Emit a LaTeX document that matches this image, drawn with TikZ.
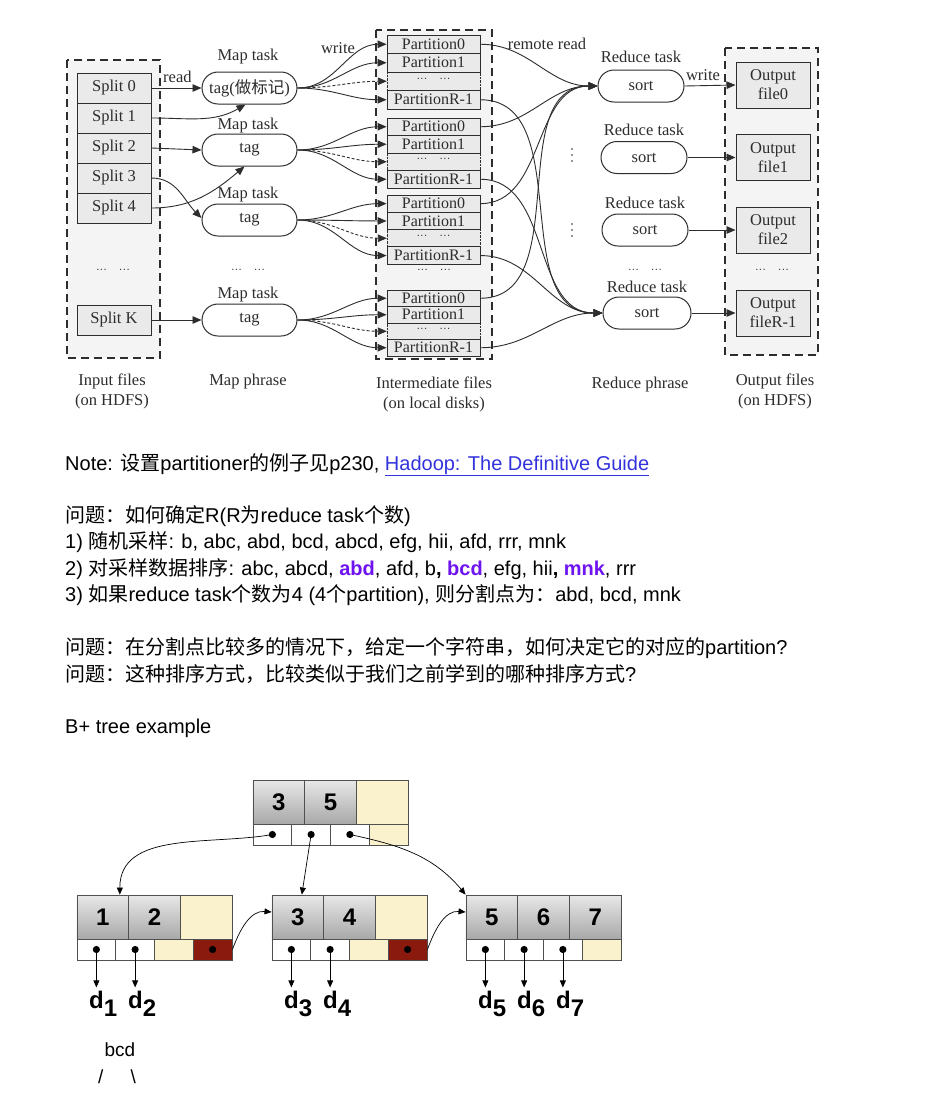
\documentclass[tikz,border=0pt]{standalone}
\usepackage{fontspec}
\setmainfont{Liberation Sans}
\newfontfamily\serif{Liberation Serif}
\newfontfamily\cjk{Noto Sans CJK SC}
\usetikzlibrary{arrows.meta,shapes.misc,calc}

\definecolor{lnk}{RGB}{51,51,221}
\definecolor{hl}{RGB}{110,20,240}
\definecolor{byel}{RGB}{250,242,204}
\definecolor{bred}{RGB}{139,26,14}
\definecolor{dline}{RGB}{45,45,45}
\definecolor{boxfill}{RGB}{234,234,234}
\definecolor{areafill}{RGB}{244,244,244}
\definecolor{ktop}{RGB}{232,232,232}
\definecolor{kbot}{RGB}{168,168,168}
\definecolor{bline}{RGB}{80,80,80}

\newcommand\zh[1]{{\cjk #1}}
\newcommand\dotsx{\raisebox{2pt}{\fontsize{11}{11}\selectfont ···\hspace{12pt}···}}

\tikzset{
  serfont/.style={font=\serif\fontsize{16.5}{20}\selectfont, text=dline},
  area/.style={draw=dline, dash pattern=on 8pt off 5pt, line width=1.4pt, fill=areafill},
  splitbox/.style={draw=dline, line width=0.9pt, fill=boxfill, minimum width=74pt, minimum height=30pt, inner sep=0pt, serfont},
  pill/.style={draw=dline, line width=1pt, fill=white, rounded rectangle, minimum width=95pt, minimum height=32pt, inner sep=0pt, serfont},
  part/.style={draw=dline, line width=0.9pt, fill=boxfill, minimum width=93pt, inner sep=0pt, font=\serif\fontsize{16}{16}\selectfont, text=dline},
  partdots/.style={draw=dline, densely dotted, fill=boxfill, minimum width=93pt, inner sep=0pt, font=\serif, text=dline},
  outbox/.style={draw=dline, line width=1pt, fill=boxfill, minimum width=74pt, minimum height=46pt, inner sep=0pt, align=center, font=\serif\fontsize{16.5}{19}\selectfont, text=dline},
  lab/.style={serfont, inner sep=0pt, align=center},
  arr/.style={draw=dline, line width=0.9pt, -{Triangle[length=9pt,width=7.5pt]}},
  txt/.style={anchor=base west, inner sep=0pt, font=\fontsize{20}{24}\selectfont},
  keycell/.style={draw=bline, line width=0.9pt, top color=ktop, bottom color=kbot, minimum width=51.67pt, minimum height=44pt, inner sep=0pt, font=\bfseries\fontsize{24}{24}\selectfont},
  keyempty/.style={draw=bline, line width=0.9pt, fill=byel, minimum width=51.67pt, minimum height=44pt, inner sep=0pt},
  ptrdot/.style={draw=bline, line width=0.9pt, fill=white, minimum width=38.75pt, minimum height=21pt, inner sep=0pt,
     path picture={\fill[black] (path picture bounding box.center) circle (3.6pt);}},
  ptrred/.style={ptrdot, fill=bred},
  ptrempty/.style={draw=bline, line width=0.9pt, fill=byel, minimum width=38.75pt, minimum height=21pt, inner sep=0pt},
  barrow/.style={draw=black, line width=0.7pt, -{Triangle[length=7pt,width=6pt]}},
  dlab/.style={anchor=base west, inner sep=0pt, font=\bfseries\fontsize{24}{24}\selectfont},
}

\newcommand\pgroup[3]{%
  \node[partdots, minimum height=#3pt] (p#1c) at (433.5,{#2+2.5*#3}) {\dotsx};
  \node[part, minimum height=#3pt] (p#1a) at (433.5,{#2+0.5*#3}) {Partition0};
  \node[part, minimum height=#3pt] (p#1b) at (433.5,{#2+1.5*#3}) {Partition1};
  \node[part, minimum height=#3pt] (p#1d) at (433.5,{#2+3.5*#3}) {PartitionR-1};
}
\newcommand\fan[2]{%
  \draw[arr] (#1.east) to[out=0,in=180] (p#2a.west);
  \draw[arr] (#1.east) to[out=0,in=180] (p#2b.west);
  \draw[arr, densely dashed] (#1.east) to[out=0,in=180] (p#2c.west);
  \draw[arr] (#1.east) to[out=0,in=180] (p#2d.west);
}
\newcommand\keyrow[7]{%
  \node[keycell] (#1k1) at ({#2+25.83},{#3+22}) {#4};
  \node[keycell] (#1k2) at ({#2+77.5},{#3+22}) {#5};
  \node[#6] (#1k3) at ({#2+129.17},{#3+22}) {#7};
}
\newcommand\ptrrow[7]{%
  \node[#4] (#1p1) at ({#2+19.375},{#3+54.5}) {};
  \node[#5] (#1p2) at ({#2+58.125},{#3+54.5}) {};
  \node[#6] (#1p3) at ({#2+96.875},{#3+54.5}) {};
  \node[#7] (#1p4) at ({#2+135.625},{#3+54.5}) {};
}

\begin{document}
\begin{tikzpicture}[x=1pt,y=-1pt]
\useasboundingbox (0,0) rectangle (940,1112);
\fill[white] (0,0) rectangle (940,1112);

% ---------- areas ----------
\draw[area] (67,60) rectangle (160,358);
\draw[area] (376,30) rectangle (492,359);
\draw[area] (725,48) rectangle (818,355);

% ---------- input splits ----------
\node[splitbox] (s0) at (114,88) {Split 0};
\node[splitbox] (s1) at (114,118) {Split 1};
\node[splitbox] (s2) at (114,148) {Split 2};
\node[splitbox] (s3) at (114,178) {Split 3};
\node[splitbox] (s4) at (114,208) {Split 4};
\node[splitbox] (sk) at (114,320) {Split K};
\node[lab] (idots) at (113,272) {\dotsx};

% ---------- map tasks ----------
\node[pill] (m1) at (249.5,88) {tag(\zh{做标记})};
\node[pill] (m2) at (249.5,150) {tag};
\node[pill] (m3) at (249.5,220) {tag};
\node[pill] (m4) at (249.5,320) {tag};
\node[lab] (ml1) at (248,57) {Map task};
\node[lab] (ml2) at (248,126) {Map task};
\node[lab] (ml3) at (248,195) {Map task};
\node[lab] (ml4) at (248,295) {Map task};
\node[lab] (mdots) at (248,272) {\dotsx};

% ---------- partitions ----------
\pgroup{1}{35}{18.5}
\pgroup{2}{118}{17.5}
\pgroup{3}{195}{17.3}
\pgroup{4}{290}{16.5}
\node[lab] (pdots) at (434,272) {\dotsx};

% ---------- reduce tasks ----------
\node[pill, minimum width=86pt] (red1) at (641,86) {sort};
\node[pill, minimum width=86pt] (red2) at (644,157.5) {sort};
\node[pill, minimum width=86pt] (red3) at (645,230) {sort};
\node[pill, minimum width=88pt] (red4) at (647,313) {sort};
\node[lab] (rl1) at (641,57) {Reduce task};
\node[lab] (rl2) at (644,130) {Reduce task};
\node[lab] (rl3) at (645,203) {Reduce task};
\node[lab] (rl4) at (647,287) {Reduce task};
\node[lab] (rdots) at (645,272) {\dotsx};
\foreach \yy in {149,155,161,224,230,236} \fill[dline] (572,\yy) circle (0.9pt);

% ---------- outputs ----------
\node[outbox] (o1) at (773,85) {Output\\file0};
\node[outbox] (o2) at (773,157.5) {Output\\file1};
\node[outbox] (o3) at (773,230) {Output\\file2};
\node[outbox] (o4) at (773,313) {Output\\fileR-1};
\node[lab] (odots) at (772,272) {\dotsx};

% ---------- connectors: input -> map ----------
\draw[arr] (s0.east) -- (m1.west);
\draw[arr] (s1.east) to[out=0,in=-150] ([xshift=-4pt]m1.south);
\draw[arr] (s2.east) -- (m2.west);
\draw[arr] (s3.east) to[out=0,in=135] ([yshift=2pt]m3.west);
\draw[arr] (s4.east) to[out=0,in=-140] ([xshift=-5pt]m2.south);
\draw[arr] (sk.east) -- (m4.west);

% ---------- map -> partitions ----------
\fan{m1}{1}
\fan{m2}{2}
\fan{m3}{3}
\fan{m4}{4}

% ---------- partitions -> reduce ----------
\foreach \g in {1,2,3,4}{
  \draw[arr] (p\g a.east) to[out=0,in=180] (red1.west);
  \draw[arr] (p\g d.east) to[out=0,in=180] (red4.west);
}

% ---------- reduce -> output ----------
\draw[arr] (red1.east) -- (o1.west);
\draw[arr] (red2.east) -- (o2.west);
\draw[arr] (red3.east) -- (o3.west);
\draw[arr] (red4.east) -- (o4.west);

% ---------- small labels ----------
\node[lab, anchor=west] (lread) at (163,77) {read};
\node[lab] (lwrite) at (338,48) {write};
\node[lab] (lrr) at (547,44) {remote read};
\node[lab] (lwrite2) at (703,75) {write};

% ---------- captions ----------
\node[lab] (c1) at (112,391) {Input files\\(on HDFS)};
\node[lab] (c2) at (248,382) {Map phrase};
\node[lab] (c3) at (434,394) {Intermediate files\\(on local disks)};
\node[lab] (c4) at (640,385) {Reduce phrase};
\node[lab] (c5) at (775,391) {Output files\\(on HDFS)};

% ---------- notes text ----------
\node[txt] (t1) at (65,470) {Note: \zh{设置}partitioner\zh{的例子见}p230, \textcolor{lnk}{\underline{Hadoop: The Definitive Guide}}};
\node[txt] (t2) at (65,522) {\zh{问题：如何确定}R(R\zh{为}reduce task\zh{个数})};
\node[txt] (t3) at (65,548) {1) \zh{随机采样}: b, abc, abd, bcd, abcd, efg, hii, afd, rrr, mnk};
\node[txt] (t4) at (65,575) {2) \zh{对采样数据排序}: abc, abcd, \textcolor{hl}{\bfseries abd}, afd, b\textbf{,} \textcolor{hl}{\bfseries bcd}, efg, hii\textbf{,} \textcolor{hl}{\bfseries mnk}, rrr};
\node[txt] (t5) at (65,601) {3) \zh{如果}reduce task\zh{个数为}4 (4\zh{个}partition), \zh{则分割点为：}abd, bcd, mnk};
\node[txt] (t6) at (65,654) {\zh{问题：在分割点比较多的情况下，给定一个字符串，如何决定它的对应的}partition?};
\node[txt] (t7) at (65,681) {\zh{问题：这种排序方式，比较类似于我们之前学到的哪种排序方式}?};
\node[txt] (t8) at (65,733) {B+ tree example};

% ---------- B+ tree ----------
\keyrow{r}{253}{780}{3}{5}{keyempty}{}
\ptrrow{r}{253}{780}{ptrdot}{ptrdot}{ptrdot}{ptrempty}
\keyrow{a}{77}{895}{1}{2}{keyempty}{}
\ptrrow{a}{77}{895}{ptrdot}{ptrdot}{ptrempty}{ptrred}
\keyrow{b}{272}{895}{3}{4}{keyempty}{}
\ptrrow{b}{272}{895}{ptrdot}{ptrdot}{ptrempty}{ptrred}
\keyrow{c}{466}{895}{5}{6}{keycell}{7}
\ptrrow{c}{466}{895}{ptrdot}{ptrdot}{ptrdot}{ptrempty}

\draw[barrow] (rp1.center) to[out=190,in=90] ([xshift=17pt]ak1.north);
\draw[barrow] (rp2.center) -- ([xshift=4pt]bk1.north);
\draw[barrow] (rp3.center) to[out=-12,in=130] (ck1.north west);
\draw[barrow] (ap4.east) to[out=70,in=175] ([yshift=5pt]bk1.west);
\draw[barrow] (bp4.east) to[out=70,in=175] ([yshift=5pt]ck1.west);

\node[dlab] (d1) at (89,1008) {d\raisebox{-8pt}{1}};
\node[dlab] (d2) at (128,1008) {d\raisebox{-8pt}{2}};
\node[dlab] (d3) at (284,1008) {d\raisebox{-8pt}{3}};
\node[dlab] (d4) at (323,1008) {d\raisebox{-8pt}{4}};
\node[dlab] (d5) at (478,1008) {d\raisebox{-8pt}{5}};
\node[dlab] (d6) at (517,1008) {d\raisebox{-8pt}{6}};
\node[dlab] (d7) at (556,1008) {d\raisebox{-8pt}{7}};
\draw[barrow, shorten >=3pt] (ap1.center) -- (ap1.center |- d1.north);
\draw[barrow, shorten >=3pt] (ap2.center) -- (ap2.center |- d2.north);
\draw[barrow, shorten >=3pt] (bp1.center) -- (bp1.center |- d3.north);
\draw[barrow, shorten >=3pt] (bp2.center) -- (bp2.center |- d4.north);
\draw[barrow, shorten >=3pt] (cp1.center) -- (cp1.center |- d5.north);
\draw[barrow, shorten >=3pt] (cp2.center) -- (cp2.center |- d6.north);
\draw[barrow, shorten >=3pt] (cp3.center) -- (cp3.center |- d7.north);

\node[inner sep=0pt, font=\fontsize{19}{19}\selectfont] (bcd) at (120,1050) {bcd};
\node[inner sep=0pt, font=\fontsize{19}{19}\selectfont] (slashes) at (117,1077) {/\hspace{27pt}\textbackslash};
\end{tikzpicture}
\end{document}
